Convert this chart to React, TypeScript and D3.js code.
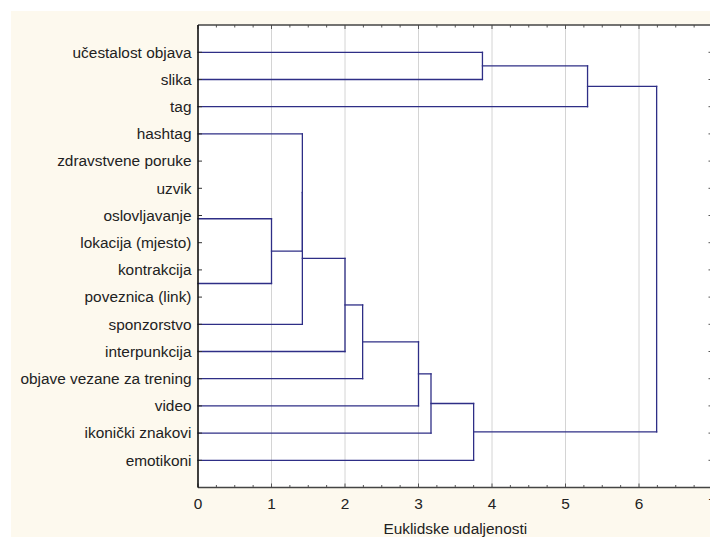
import * as d3 from "d3";
import React, { useEffect, useRef } from "react";

// leaf labels, top to bottom
const labels = [
  "učestalost objava",
  "slika",
  "tag",
  "hashtag",
  "zdravstvene poruke",
  "uzvik",
  "oslovljavanje",
  "lokacija (mjesto)",
  "kontrakcija",
  "poveznica (link)",
  "sponzorstvo",
  "interpunkcija",
  "objave vezane za trening",
  "video",
  "ikonički znakovi",
  "emotikoni",
];

// groups joined at distance 0 (drawn as a single branch at the given row)
const zeroGroupRows = [3.0, 6.12, 8.5];

// binary merges: left child, right child, linkage distance
// ids: r# = leaf row, g# = zero-distance group, m# = earlier merge
const mergeLeft = ["g1", "g0", "m1", "m2", "m3", "m4", "m5", "m6", "r0", "m8", "m9"];
const mergeRight = ["g2", "m0", "r10", "r11", "r12", "r13", "r14", "r15", "r1", "r2", "m7"];
const mergeHeight = [1.0, 1.42, 1.42, 2.0, 2.24, 3.0, 3.17, 3.75, 3.87, 5.3, 6.24];

const xTicks = [0, 1, 2, 3, 4, 5, 6, 7];
const axisTitle = "Euklidske udaljenosti";

const W = 710;
const H = 537;
const FONT = "'Liberation Sans', Arial, sans-serif";
const LINE = "#2e2e86";

const App: React.FC = () => {
  const ref = useRef<SVGSVGElement>(null);

  useEffect(() => {
    if (!ref.current) return;
    const svg = d3.select(ref.current);
    svg.selectAll("*").remove();

    const plot = { left: 198, top: 25, bottom: 487.5 };
    const x = d3.scaleLinear().domain([0, 7]).range([plot.left, 712.5]);
    const y = d3.scaleLinear().domain([0, labels.length - 1]).range([52.3, 460.3]);

    // backgrounds
    svg.append("rect").attr("width", W).attr("height", H).attr("fill", "#fff");
    svg
      .append("rect")
      .attr("x", 11)
      .attr("y", 11)
      .attr("width", W - 11)
      .attr("height", H - 11)
      .attr("fill", "#fdf9ee");
    svg
      .append("rect")
      .attr("x", plot.left)
      .attr("y", plot.top)
      .attr("width", W - plot.left)
      .attr("height", plot.bottom - plot.top)
      .attr("fill", "#fff");

    // grid
    svg
      .append("g")
      .selectAll("line")
      .data(xTicks.filter((d) => d > 0))
      .join("line")
      .attr("x1", (d) => x(d))
      .attr("x2", (d) => x(d))
      .attr("y1", plot.top)
      .attr("y2", plot.bottom)
      .attr("stroke", "#d4d4d4")
      .attr("stroke-width", 1);

    // node positions
    const pos = new Map<string, { y: number; h: number }>();
    labels.forEach((_, i) => pos.set("r" + i, { y: y(i), h: 0 }));
    zeroGroupRows.forEach((r, i) => pos.set("g" + i, { y: y(r), h: 0 }));

    const segs: [number, number, number, number][] = [];
    mergeHeight.forEach((h, i) => {
      const a = pos.get(mergeLeft[i])!;
      const b = pos.get(mergeRight[i])!;
      const xm = x(h);
      segs.push([x(a.h), a.y, xm, a.y]);
      segs.push([x(b.h), b.y, xm, b.y]);
      segs.push([xm, a.y, xm, b.y]);
      pos.set("m" + i, { y: (a.y + b.y) / 2, h });
    });

    svg
      .append("g")
      .selectAll("line")
      .data(segs)
      .join("line")
      .attr("x1", (d) => d[0])
      .attr("y1", (d) => d[1])
      .attr("x2", (d) => d[2])
      .attr("y2", (d) => d[3])
      .attr("stroke", LINE)
      .attr("stroke-width", 1.3)
      .attr("stroke-linecap", "square");

    // minor/major ticks on top and bottom axes
    const minor = d3.range(0, 7.01, 0.25);
    const axisCol = "#555";
    svg
      .append("g")
      .selectAll("line")
      .data(minor)
      .join("line")
      .attr("x1", (d) => x(d))
      .attr("x2", (d) => x(d))
      .attr("y1", plot.top)
      .attr("y2", (d) => plot.top + (d % 1 === 0 ? 4 : 2.5))
      .attr("stroke", axisCol);
    svg
      .append("g")
      .selectAll("line")
      .data(minor)
      .join("line")
      .attr("x1", (d) => x(d))
      .attr("x2", (d) => x(d))
      .attr("y1", plot.bottom)
      .attr("y2", (d) => plot.bottom - (d % 1 === 0 ? 4 : 2.5))
      .attr("stroke", axisCol);

    // row ticks left and right
    svg
      .append("g")
      .selectAll("line")
      .data(labels.map((_, i) => i))
      .join("line")
      .attr("x1", plot.left)
      .attr("x2", plot.left + 4)
      .attr("y1", (d) => y(d))
      .attr("y2", (d) => y(d))
      .attr("stroke", "#333");
    svg
      .append("g")
      .selectAll("line")
      .data(labels.map((_, i) => i))
      .join("line")
      .attr("x1", x(7) - 4)
      .attr("x2", x(7))
      .attr("y1", (d) => y(d))
      .attr("y2", (d) => y(d))
      .attr("stroke", "#555");

    // axis lines
    svg
      .append("line")
      .attr("x1", plot.left)
      .attr("x2", W)
      .attr("y1", plot.top)
      .attr("y2", plot.top)
      .attr("stroke", "#444")
      .attr("stroke-width", 1.6);
    svg
      .append("line")
      .attr("x1", plot.left)
      .attr("x2", W)
      .attr("y1", plot.bottom)
      .attr("y2", plot.bottom)
      .attr("stroke", "#444")
      .attr("stroke-width", 1.6);
    svg
      .append("line")
      .attr("x1", plot.left)
      .attr("x2", plot.left)
      .attr("y1", plot.top)
      .attr("y2", plot.bottom)
      .attr("stroke", "#111")
      .attr("stroke-width", 1.6);

    // leaf labels
    svg
      .append("g")
      .selectAll("text")
      .data(labels)
      .join("text")
      .attr("x", plot.left - 6.5)
      .attr("y", (_, i) => y(i))
      .attr("dy", "0.35em")
      .attr("text-anchor", "end")
      .attr("font-family", FONT)
      .attr("font-size", 15.4)
      .attr("fill", "#222")
      .text((d) => d);

    // x tick labels
    svg
      .append("g")
      .selectAll("text")
      .data(xTicks)
      .join("text")
      .attr("x", (d) => x(d))
      .attr("y", 504)
      .attr("dy", "0.35em")
      .attr("text-anchor", "middle")
      .attr("font-family", FONT)
      .attr("font-size", 15.4)
      .attr("fill", "#222")
      .text((d) => d);

    svg
      .append("text")
      .attr("x", (x(0) + x(7)) / 2)
      .attr("y", 529)
      .attr("dy", "0.35em")
      .attr("text-anchor", "middle")
      .attr("font-family", FONT)
      .attr("font-size", 15.4)
      .attr("fill", "#222")
      .text(axisTitle);
  }, []);

  return (
    <svg
      ref={ref}
      width={W}
      height={H}
      style={{ position: "absolute", left: 0, top: 0, display: "block" }}
    />
  );
};

export default App;
